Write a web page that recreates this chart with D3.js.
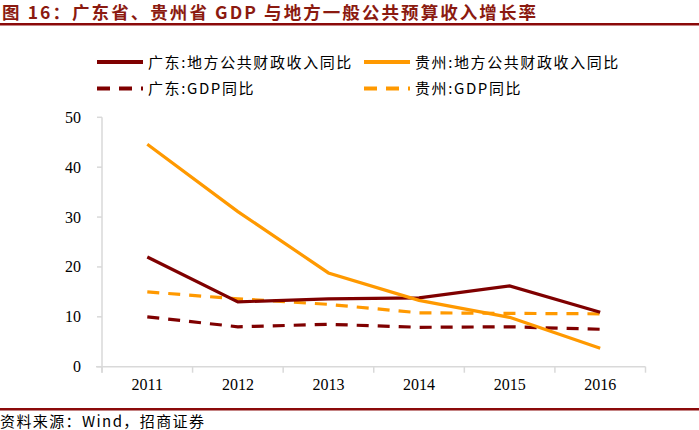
<!DOCTYPE html>
<html><head><meta charset="utf-8">
<script src="https://cdn.jsdelivr.net/npm/d3@7"></script>
<style>
html,body{margin:0;padding:0;background:#fff;}
svg{display:block;}
</style></head>
<body>
<script>
const years = ["2011","2012","2013","2014","2015","2016"];
const gdFiscal = [22.0, 13.0, 13.6, 13.8, 16.2, 10.9];
const gzFiscal = [44.6, 31.1, 18.8, 13.3, 9.9, 3.7];
const gdGDP = [10.0, 8.0, 8.5, 7.9, 8.0, 7.5];
const gzGDP = [15.0, 13.6, 12.5, 10.8, 10.7, 10.6];
const yTicks = [0,10,20,30,40,50];
const seriesNames = ["广东:地方公共财政收入同比","贵州:地方公共财政收入同比","广东:GDP同比","贵州:GDP同比"];
const titleText = "图 16：广东省、贵州省 GDP 与地方一般公共预算收入增长率";
const sourceText = "资料来源：Wind，招商证券";

const W = 699, H = 430;
const DARK = "#7f0000", ORANGE = "#ff9900", RULE = "#8b0a0a";
const svg = d3.select("body").append("svg").attr("width", W).attr("height", H);

// Title
svg.append("text").attr("x", 2).attr("y", 19)
  .attr("font-family", "'Noto Sans CJK SC', sans-serif").attr("font-weight", "bold")
  .attr("font-size", 17.5).attr("fill", "#8b1a10")
  .attr("textLength", 534).attr("lengthAdjust", "spacing")
  .text(titleText);
svg.append("rect").attr("x", 0).attr("y", 23).attr("width", W).attr("height", 2.5).attr("fill", RULE);

// Scales
const x = d3.scaleBand().domain(years).range([102, 645.5]);
const y = d3.scaleLinear().domain([0, 50]).range([366.7, 117.3]);

// Axes
const gx = svg.append("g").attr("transform", `translate(0,${y(0)})`);
gx.append("line").attr("x1", 96).attr("x2", 645.5).attr("stroke", "#d9d9d9").attr("stroke-width", 1.5);
const edges = years.map(d => x(d)).concat([x(years[years.length-1]) + x.bandwidth()]);
gx.selectAll("line.tk").data(edges).join("line").attr("class","tk")
  .attr("x1", d => d).attr("x2", d => d).attr("y1", 0).attr("y2", 6)
  .attr("stroke", "#d9d9d9").attr("stroke-width", 1.5);
gx.selectAll("text").data(years).join("text")
  .attr("x", d => x(d) + x.bandwidth()/2).attr("y", 23)
  .attr("text-anchor", "middle").attr("font-family", "'Liberation Serif', serif")
  .attr("font-size", 16).attr("fill", "#000").text(d => d);

const gy = svg.append("g").attr("transform", `translate(102,0)`);
gy.append("line").attr("y1", y(50)).attr("y2", y(0)+6).attr("stroke", "#d9d9d9").attr("stroke-width", 1.5);
gy.selectAll("line.tk").data(yTicks).join("line").attr("class","tk")
  .attr("x1", -5).attr("x2", 0).attr("y1", d => y(d)).attr("y2", d => y(d))
  .attr("stroke", "#d9d9d9").attr("stroke-width", 1.5);
gy.selectAll("text").data(yTicks).join("text")
  .attr("x", -21).attr("y", d => y(d) + 5.5)
  .attr("text-anchor", "end").attr("font-family", "'Liberation Serif', serif")
  .attr("font-size", 16).attr("fill", "#000").text(d => d);

// Lines
const line = d3.line().x((d,i) => x(years[i]) + x.bandwidth()/2).y(d => y(d));
const series = [
  {vals: gdGDP, color: DARK, dash: "12,9"},
  {vals: gzGDP, color: ORANGE, dash: "12,9"},
  {vals: gdFiscal, color: DARK, dash: null},
  {vals: gzFiscal, color: ORANGE, dash: null}
];
svg.selectAll("path.s").data(series).join("path").attr("class","s")
  .attr("d", d => line(d.vals)).attr("fill", "none")
  .attr("stroke", d => d.color).attr("stroke-width", 3.2)
  .attr("stroke-dasharray", d => d.dash)
  .attr("stroke-linejoin", "miter");

// Legend
const leg = [
  {name: seriesNames[0], color: DARK, dash: null, lx: 97, ly: 62},
  {name: seriesNames[1], color: ORANGE, dash: null, lx: 364, ly: 62},
  {name: seriesNames[2], color: DARK, dash: "13,9", lx: 97, ly: 88.5},
  {name: seriesNames[3], color: ORANGE, dash: "13,9", lx: 364, ly: 88.5}
];
const lg = svg.selectAll("g.lg").data(leg).join("g").attr("class","lg");
lg.append("line").attr("x1", d => d.lx).attr("x2", d => d.lx + 46)
  .attr("y1", d => d.ly).attr("y2", d => d.ly)
  .attr("stroke", d => d.color).attr("stroke-width", 4)
  .attr("stroke-dasharray", d => d.dash);
lg.append("text").attr("x", d => d.lx + 51).attr("y", d => d.ly + 5.5)
  .attr("font-family", "'Noto Sans CJK SC', sans-serif").attr("font-size", 15)
  .attr("fill", "#000").attr("letter-spacing", 1.6)
  .text(d => d.name);

// Source
svg.append("rect").attr("x", 0).attr("y", 408).attr("width", W).attr("height", 2.5).attr("fill", RULE);
svg.append("text").attr("x", 0).attr("y", 427)
  .attr("font-family", "'Noto Sans CJK SC', sans-serif").attr("font-size", 15)
  .attr("fill", "#000").attr("textLength", 204).attr("lengthAdjust", "spacing")
  .text(sourceText);
</script>
</body></html>
